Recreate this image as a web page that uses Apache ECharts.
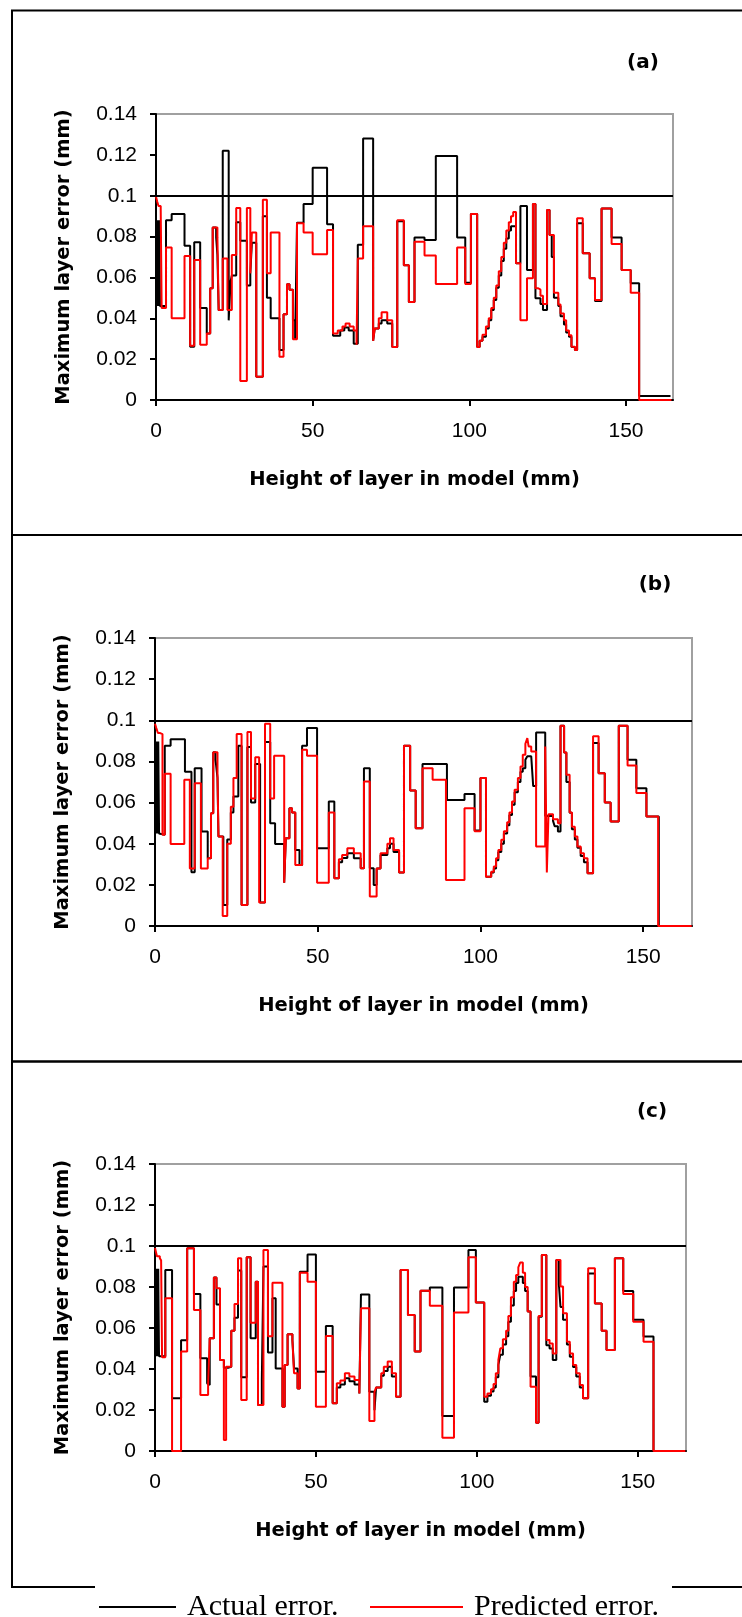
<!DOCTYPE html>
<html>
<head>
<meta charset="utf-8">
<title>Maximum layer error</title>
<script src="https://cdn.jsdelivr.net/npm/echarts@6/dist/echarts.min.js"></script>
<style>
    html, body { margin: 0; padding: 0; background: #fff; }
    #main { width: 742px; height: 1617px; }
</style>
</head>
<body>
<div id="main"></div>
<script>
// axes
var xTicks = [0, 50, 100, 150];
var xMax = 165;
var yMax = 0.14;
var yStep = 0.02;
var errorLimit = 0.1;
var panelNames = ['(a)', '(b)', '(c)'];
var seriesNames = ['Actual error.', 'Predicted error.'];

// [height of layer (mm), max layer error (mm)], each value holds until the next height
var actualA = [[0, 0.088], [0.25, 0.046], [0.5, 0.088], [0.75, 0.046], [1.0, 0.088], [1.25, 0.046], [1.5, 0.046], [3.2, 0.088],
    [5.0, 0.091], [9.1, 0.0755], [10.9, 0.0261], [12.2, 0.0772], [14.1, 0.045], [16.2, 0.0326], [17.3, 0.0547], [18.1, 0.0845],
    [19.2, 0.0796], [19.6, 0.071], [20.0, 0.044], [21.3, 0.122], [23.2, 0.039], [23.8, 0.058], [24.2, 0.061], [25.6, 0.087],
    [26.9, 0.078], [29.0, 0.056], [30.1, 0.062], [30.6, 0.077], [32.0, 0.0114], [34.1, 0.09], [35.4, 0.05], [36.6, 0.04],
    [39.4, 0.0245], [40.7, 0.042], [41.8, 0.0566], [42.6, 0.054], [43.7, 0.039], [44.4, 0.0297], [45.0, 0.0868], [47.1, 0.096],
    [50.0, 0.1137], [54.6, 0.086], [56.5, 0.0315], [58.8, 0.034], [60.1, 0.0355], [61.5, 0.034], [63.1, 0.0275], [64.4, 0.076],
    [66.1, 0.128], [69.3, 0.029], [69.8, 0.035], [71.1, 0.0375], [72.0, 0.039], [73.8, 0.0375], [75.4, 0.026], [77.0, 0.0875],
    [79.1, 0.066], [80.7, 0.048], [82.5, 0.0795], [85.7, 0.0783], [89.3, 0.1194], [96.1, 0.0795], [98.7, 0.0574], [100.5, 0.091],
    [102.5, 0.026], [103.3, 0.029], [104.2, 0.031], [105.3, 0.035], [106.2, 0.039], [107.0, 0.044], [107.8, 0.049], [108.6, 0.055],
    [109.4, 0.061], [110.2, 0.068], [111.0, 0.074], [111.8, 0.079], [112.6, 0.083], [113.3, 0.085], [114.0, 0.085], [114.9, 0.067],
    [116.3, 0.095], [118.4, 0.0636], [120.3, 0.096], [121.1, 0.0498], [122.7, 0.047], [123.5, 0.044], [124.8, 0.093], [125.6, 0.0808],
    [126.3, 0.07], [127.0, 0.05], [128.4, 0.046], [129.1, 0.041], [130.2, 0.037], [130.9, 0.033], [131.8, 0.031], [132.6, 0.026],
    [133.7, 0.0245], [134.4, 0.0865], [136.2, 0.0718], [138.4, 0.0596], [140.1, 0.0485], [142.2, 0.0938], [145.4, 0.0795],
    [148.6, 0.0636], [151.5, 0.0571], [154.2, 0.002], [164.2, 0.002]];
var predictedA = [[0, 0.0995], [0.4, 0.097], [0.8, 0.095], [1.5, 0.094], [1.8, 0.045], [3.2, 0.0746], [5.0, 0.040], [9.1, 0.0705],
    [10.9, 0.0266], [12.2, 0.0685], [14.1, 0.027], [16.2, 0.0326], [17.3, 0.0547], [18.1, 0.0845], [19.6, 0.0796], [20.0, 0.044],
    [21.3, 0.0693], [22.8, 0.044], [24.2, 0.071], [25.6, 0.094], [26.9, 0.0093], [29.0, 0.094], [30.1, 0.062], [30.6, 0.082],
    [32.0, 0.0114], [34.1, 0.098], [35.4, 0.062], [36.6, 0.082], [39.4, 0.0212], [40.7, 0.042], [41.8, 0.0566], [42.6, 0.054],
    [43.7, 0.0297], [45.0, 0.0865], [47.1, 0.082], [50.0, 0.0713], [54.6, 0.0832], [56.5, 0.0326], [58.0, 0.034], [59.5, 0.036],
    [60.5, 0.0375], [61.8, 0.036], [63.1, 0.034], [64.0, 0.027], [64.4, 0.0693], [66.1, 0.085], [69.3, 0.029], [69.8, 0.035],
    [71.1, 0.04], [72.0, 0.043], [73.8, 0.039], [75.4, 0.026], [77.0, 0.088], [79.1, 0.066], [80.7, 0.048], [82.5, 0.0775],
    [85.7, 0.0707], [89.3, 0.0568], [96.1, 0.0746], [98.7, 0.0568], [100.5, 0.091], [102.5, 0.026], [103.3, 0.029], [104.2, 0.032],
    [105.3, 0.036], [106.2, 0.040], [107.0, 0.045], [107.8, 0.050], [108.6, 0.056], [109.4, 0.063], [110.2, 0.070], [111.0, 0.077],
    [111.8, 0.083], [112.6, 0.087], [113.3, 0.090], [114.0, 0.092], [114.9, 0.0669], [116.3, 0.039], [118.4, 0.0596], [120.3, 0.096],
    [121.1, 0.0547], [122.0, 0.054], [122.7, 0.051], [123.5, 0.047], [124.8, 0.093], [125.6, 0.0808], [127.0, 0.0525], [128.4, 0.0467],
    [129.1, 0.0424], [130.2, 0.039], [130.9, 0.034], [131.8, 0.0317], [132.6, 0.0261], [133.7, 0.0245], [134.4, 0.089], [136.2, 0.0718],
    [138.4, 0.0596], [140.1, 0.049], [142.2, 0.0938], [145.4, 0.0764], [148.6, 0.0636], [151.5, 0.0525], [154.2, 0], [164.5, 0]];

var actualB = [[0, 0.0897], [0.25, 0.045], [0.5, 0.0897], [0.75, 0.045], [1.0, 0.0897], [1.25, 0.045], [1.5, 0.0443], [3.0, 0.0876],
    [4.8, 0.0908], [9.2, 0.075], [11.2, 0.0261], [12.2, 0.0767], [14.3, 0.0459], [16.2, 0.0329], [17.2, 0.0548], [17.9, 0.0845],
    [18.6, 0.0808], [19.2, 0.072], [19.5, 0.0435], [21.0, 0.0102], [22.2, 0.042], [23.3, 0.0552], [24.1, 0.063], [25.6, 0.0876],
    [26.6, 0.0102], [28.4, 0.087], [29.5, 0.06], [30.8, 0.0788], [32.3, 0.0114], [33.8, 0.0895], [35.4, 0.05], [36.9, 0.0399],
    [39.7, 0.021], [40.2, 0.0427], [41.3, 0.0573], [42.1, 0.0552], [43.1, 0.037], [44.4, 0.0297], [45.2, 0.0876], [46.7, 0.0962],
    [49.8, 0.0378], [53.4, 0.0605], [55.1, 0.0232], [56.5, 0.031], [57.5, 0.033], [59.1, 0.0354], [61.1, 0.0329], [63.2, 0.0281],
    [64.2, 0.0767], [66.0, 0.0281], [67.2, 0.0199], [68.1, 0.028], [69.3, 0.0345], [71.4, 0.0378], [72.2, 0.040], [73.3, 0.036],
    [75.0, 0.026], [76.5, 0.0876], [78.4, 0.0659], [80.1, 0.0475], [82.2, 0.0788], [89.7, 0.0613], [95.1, 0.0642], [98.2, 0.0464],
    [100.0, 0.0719], [101.7, 0.024], [103.3, 0.026], [104.1, 0.028], [104.8, 0.032], [105.5, 0.036], [106.4, 0.040], [107.2, 0.045],
    [108.2, 0.049], [108.9, 0.054], [109.7, 0.059], [110.5, 0.065], [111.5, 0.070], [112.3, 0.075], [113.0, 0.0767], [113.8, 0.0808],
    [114.4, 0.0825], [115.6, 0.0825], [116.2, 0.068], [117.1, 0.0941], [119.9, 0.0535], [122.3, 0.0511], [122.8, 0.0485],
    [123.8, 0.0459], [124.6, 0.0973], [125.7, 0.0843], [126.4, 0.07], [127.4, 0.055], [128.1, 0.047], [129.0, 0.042], [129.8, 0.038],
    [130.8, 0.034], [131.8, 0.031], [132.9, 0.0256], [134.6, 0.089], [136.3, 0.0743], [138.2, 0.06], [140.0, 0.0508], [142.5, 0.0973],
    [145.2, 0.0808], [147.9, 0.067], [151.0, 0.0532], [154.8, 0], [164.9, 0]];
var predictedB = [[0, 0.0983], [0.4, 0.0962], [0.9, 0.0938], [1.6, 0.0933], [2.3, 0.0443], [3.0, 0.074], [4.8, 0.0399], [9.0, 0.0711],
    [10.7, 0.028], [12.2, 0.0694], [14.1, 0.028], [16.2, 0.0329], [17.2, 0.0548], [17.9, 0.0845], [19.2, 0.074], [19.5, 0.0435],
    [20.8, 0.0049], [22.2, 0.04], [23.3, 0.058], [24.1, 0.0719], [25.1, 0.0933], [26.6, 0.0102], [28.4, 0.0943], [29.5, 0.062],
    [30.8, 0.082], [32.0, 0.0114], [33.8, 0.0983], [35.4, 0.062], [36.6, 0.0827], [39.7, 0.021], [40.2, 0.0427], [41.3, 0.0573],
    [42.1, 0.0552], [43.1, 0.0297], [45.2, 0.0857], [46.7, 0.0827], [49.8, 0.021], [53.4, 0.0552], [55.1, 0.0232], [56.5, 0.0324],
    [57.5, 0.0345], [59.1, 0.0378], [61.1, 0.0354], [63.2, 0.0281], [64.2, 0.0703], [66.0, 0.0143], [68.1, 0.028], [69.3, 0.0354],
    [71.4, 0.040], [72.2, 0.0427], [73.3, 0.037], [75.0, 0.026], [76.5, 0.0876], [78.4, 0.0659], [80.1, 0.0475], [82.2, 0.0767],
    [85.3, 0.0711], [89.4, 0.0224], [95.1, 0.0573], [98.2, 0.046], [100.0, 0.0719], [101.7, 0.024], [103.3, 0.0264], [104.1, 0.0289],
    [104.8, 0.0329], [105.5, 0.037], [106.4, 0.0419], [107.2, 0.046], [108.2, 0.0504], [108.9, 0.0552], [109.7, 0.0605], [110.5, 0.0662],
    [111.5, 0.0719], [112.3, 0.0775], [113.0, 0.0832], [113.8, 0.0886], [114.4, 0.0913], [114.8, 0.0873], [115.6, 0.0848],
    [117.1, 0.0386], [119.9, 0.0873], [120.4, 0.026], [120.9, 0.0543], [122.3, 0.0519], [123.8, 0.05], [124.6, 0.0973],
    [125.7, 0.0843], [126.4, 0.0735], [127.4, 0.0552], [128.1, 0.0483], [129.0, 0.0435], [129.8, 0.0386], [130.8, 0.0354],
    [131.8, 0.0329], [132.9, 0.0256], [134.6, 0.0922], [136.3, 0.0743], [138.2, 0.06], [140.0, 0.0508], [142.5, 0.0973],
    [145.2, 0.078], [147.9, 0.0646], [151.0, 0.0532], [154.6, 0], [164.9, 0]];

var actualC = [[0, 0.0889], [0.25, 0.0462], [0.5, 0.0889], [0.75, 0.0462], [1.0, 0.0889], [1.25, 0.0462], [1.9, 0.0462], [3.2, 0.0883],
    [5.3, 0.0257], [8.1, 0.054], [10.0, 0.0989], [12.1, 0.0766], [14.1, 0.0452], [16.2, 0.033], [16.5, 0.0322], [17.0, 0.055],
    [18.3, 0.0846], [19.1, 0.0715], [20.2, 0.0444], [21.4, 0.0406], [22.7, 0.0411], [23.7, 0.0587], [24.7, 0.065], [25.8, 0.088],
    [26.8, 0.036], [28.5, 0.0945], [29.7, 0.055], [31.3, 0.0826], [32.0, 0.0224], [33.2, 0.035], [33.7, 0.09], [35.1, 0.048],
    [36.5, 0.0745], [37.5, 0.0403], [39.6, 0.0216], [40.3, 0.0419], [41.2, 0.057], [42.7, 0.054], [43.2, 0.0403], [44.3, 0.0305],
    [45.0, 0.0875], [47.4, 0.0959], [50.0, 0.0387], [53.1, 0.061], [55.2, 0.0233], [56.5, 0.031], [57.6, 0.0325], [59.0, 0.0355],
    [60.4, 0.034], [62.0, 0.0325], [63.5, 0.0281], [64.0, 0.0764], [66.6, 0.0289], [68.2, 0.0199], [68.7, 0.031], [70.3, 0.0367],
    [71.1, 0.039], [72.3, 0.0411], [73.6, 0.0363], [74.9, 0.0265], [76.3, 0.0883], [78.6, 0.0663], [80.7, 0.0485], [82.5, 0.0782],
    [85.4, 0.0797], [89.3, 0.0171], [92.9, 0.0797], [97.4, 0.098], [99.7, 0.0725], [102.3, 0.024], [103.3, 0.027], [104.4, 0.029],
    [105.2, 0.031], [105.9, 0.036], [106.7, 0.042], [107.3, 0.047], [108.1, 0.052], [109.1, 0.056], [109.8, 0.063], [110.6, 0.071],
    [111.5, 0.078], [112.2, 0.082], [112.9, 0.085], [113.5, 0.085], [114.3, 0.082], [115.0, 0.078], [115.8, 0.068], [116.7, 0.0363],
    [118.4, 0.0138], [119.2, 0.0655], [120.2, 0.0956], [121.6, 0.0516], [122.6, 0.050], [123.6, 0.0444], [124.7, 0.0932],
    [125.5, 0.0812], [126.0, 0.0703], [126.8, 0.064], [128.0, 0.052], [128.9, 0.046], [129.9, 0.041], [130.9, 0.0363], [132.0, 0.031],
    [133.0, 0.0257], [134.6, 0.0866], [136.7, 0.072], [138.8, 0.0587], [140.3, 0.0493], [142.9, 0.094], [145.5, 0.078],
    [148.6, 0.064], [151.8, 0.0558], [154.9, 0], [164.8, 0]];
var predictedC = [[0, 0.099], [0.6, 0.095], [1.5, 0.094], [1.9, 0.093], [2.2, 0.0457], [3.2, 0.0745], [5.3, 0], [8.1, 0.0485],
    [10.0, 0.0989], [12.1, 0.0688], [14.1, 0.0273], [16.5, 0.0322], [17.0, 0.055], [18.3, 0.0846], [19.1, 0.0794], [20.2, 0.0444],
    [21.4, 0.0054], [22.1, 0.0411], [23.7, 0.0587], [24.7, 0.0717], [25.8, 0.094], [26.8, 0.0249], [28.5, 0.0945], [29.7, 0.0626],
    [31.3, 0.0826], [32.0, 0.0224], [33.7, 0.098], [35.1, 0.056], [36.5, 0.0821], [39.6, 0.0216], [40.3, 0.0419], [41.2, 0.057],
    [42.7, 0.054], [43.2, 0.0379], [44.3, 0.0305], [45.0, 0.087], [47.4, 0.0826], [50.0, 0.0216], [53.1, 0.0561], [55.2, 0.0233],
    [56.5, 0.033], [57.6, 0.0344], [59.0, 0.0379], [60.4, 0.0363], [62.0, 0.0346], [63.5, 0.0281], [64.0, 0.0696], [66.6, 0.0146],
    [68.2, 0.0288], [68.7, 0.031], [70.3, 0.0379], [71.1, 0.0411], [72.3, 0.0436], [73.6, 0.0379], [74.9, 0.0265], [76.3, 0.0883],
    [78.6, 0.0663], [80.7, 0.0485], [82.5, 0.0782], [85.4, 0.0709], [89.3, 0.0065], [92.9, 0.0676], [97.4, 0.0945], [99.7, 0.0725],
    [102.3, 0.0265], [103.3, 0.0281], [104.4, 0.0301], [105.2, 0.0327], [105.9, 0.0379], [106.7, 0.0444], [107.3, 0.0501],
    [108.1, 0.0545], [109.1, 0.0587], [109.8, 0.0659], [110.6, 0.075], [111.5, 0.0826], [112.2, 0.0859], [112.9, 0.0896],
    [113.5, 0.092], [114.3, 0.087], [115.0, 0.080], [115.8, 0.068], [116.7, 0.0314], [118.4, 0.0138], [119.2, 0.0659], [120.2, 0.0956],
    [121.6, 0.0541], [122.6, 0.0525], [123.6, 0.0476], [124.7, 0.0932], [126.0, 0.0802], [126.8, 0.0672], [128.0, 0.0533],
    [128.9, 0.0476], [129.9, 0.0419], [130.9, 0.0379], [132.0, 0.0322], [133.0, 0.0257], [134.6, 0.0891], [136.7, 0.072],
    [138.8, 0.0587], [140.3, 0.0493], [142.9, 0.094], [145.5, 0.0766], [148.6, 0.0631], [151.8, 0.0533], [154.9, 0], [164.8, 0]];

var actualData = [actualA, actualB, actualC];
var predictedData = [predictedA, predictedB, predictedC];

// frame of each panel and its plot area (px)
var panels = [
    { top: 10.5, bottom: 535, grid: { left: 156, top: 114, width: 517, height: 286 }, label: [643, 63] },
    { top: 535, bottom: 1061.5, grid: { left: 155, top: 638, width: 537, height: 288 }, label: [655, 585] },
    { top: 1061.5, bottom: 1587, grid: { left: 155, top: 1164, width: 531, height: 287 }, label: [652, 1112] }
];

var myChart = echarts.init(document.getElementById('main'), null, { renderer: 'canvas' });

var titleFont = { fontFamily: 'DejaVu Sans', fontWeight: 'bold', fontSize: 19.5, color: '#000' };
var tickFont = { fontFamily: 'Liberation Sans', fontSize: 21, color: '#000' };

var grids = [], xAxes = [], yAxes = [], series = [], graphics = [];

for (var i = 0; i < 3; i++) {
    var p = panels[i];
    grids.push({
        left: p.grid.left, top: p.grid.top, width: p.grid.width, height: p.grid.height,
        show: true, borderColor: '#a0a0a0', borderWidth: 2, containLabel: false
    });
    xAxes.push({
        type: 'value', gridIndex: i, min: 0, max: xMax, interval: 50,
        name: 'Height of layer in model (mm)', nameLocation: 'middle', nameGap: 70,
        nameTextStyle: titleFont,
        axisLine: { show: true, onZero: false, lineStyle: { color: '#000', width: 2 } },
        axisTick: { show: true, inside: false, length: 6, customValues: xTicks, lineStyle: { color: '#000', width: 2 } },
        axisLabel: {
            margin: 21, customValues: xTicks, fontFamily: tickFont.fontFamily, fontSize: tickFont.fontSize, color: '#000',
            formatter: function (v) { return v % 50 === 0 ? String(v) : ''; }
        },
        splitLine: { show: false }
    });
    yAxes.push({
        type: 'value', gridIndex: i, min: 0, max: yMax, interval: yStep,
        name: 'Maximum layer error (mm)', nameLocation: 'middle', nameGap: 82,
        nameTextStyle: titleFont,
        axisLine: { show: true, lineStyle: { color: '#000', width: 2 } },
        axisTick: { show: true, inside: false, length: 6, lineStyle: { color: '#000', width: 2 } },
        axisLabel: { margin: 19, fontFamily: tickFont.fontFamily, fontSize: tickFont.fontSize, color: '#000' },
        splitLine: { show: false }
    });
    series.push({
        name: seriesNames[0], type: 'line', xAxisIndex: i, yAxisIndex: i,
        data: actualData[i], step: 'end', symbol: 'none', clip: false, z: 3,
        lineStyle: { color: '#000', width: 2 }, itemStyle: { color: '#000' },
        markLine: {
            silent: true, symbol: ['none', 'none'], label: { show: false },
            lineStyle: { color: '#000', width: 2, type: 'solid' },
            data: [{ yAxis: errorLimit }]
        }
    });
    series.push({
        name: seriesNames[1], type: 'line', xAxisIndex: i, yAxisIndex: i,
        data: predictedData[i], step: 'end', symbol: 'none', clip: false, z: 4,
        lineStyle: { color: '#ff0000', width: 2 }, itemStyle: { color: '#ff0000' }
    });
    // panel frame
    graphics.push({
        type: 'rect', z: 1,
        shape: { x: 12, y: p.top, width: 800, height: p.bottom - p.top },
        style: { fill: 'none', stroke: '#000', lineWidth: 2 }
    });
    graphics.push({
        type: 'text', z: 5, x: p.label[0], y: p.label[1],
        style: {
            text: panelNames[i], fill: '#000', font: 'bold 20px "DejaVu Sans"',
            textAlign: 'center', textVerticalAlign: 'middle'
        }
    });
}

// white box under the legend
graphics.push({
    type: 'rect', z: 3,
    shape: { x: 95, y: 1584, width: 577, height: 40 },
    style: { fill: '#fff', stroke: 'none' }
});

var legendText = { fontFamily: 'Liberation Serif', fontSize: 30, color: '#000', padding: [0, 0, 0, 6] };

option = {
    backgroundColor: '#fff',
    animation: false,
    grid: grids,
    xAxis: xAxes,
    yAxis: yAxes,
    series: series,
    graphic: graphics,
    legend: [
        { data: [seriesNames[0]], left: 99, top: 1592, padding: 0, icon: 'rect', itemWidth: 77, itemHeight: 2, z: 6, textStyle: legendText },
        { data: [seriesNames[1]], left: 370, top: 1592, padding: 0, icon: 'rect', itemWidth: 93, itemHeight: 2, z: 6, textStyle: legendText }
    ]
};

myChart.setOption(option);
</script>
</body>
</html>
